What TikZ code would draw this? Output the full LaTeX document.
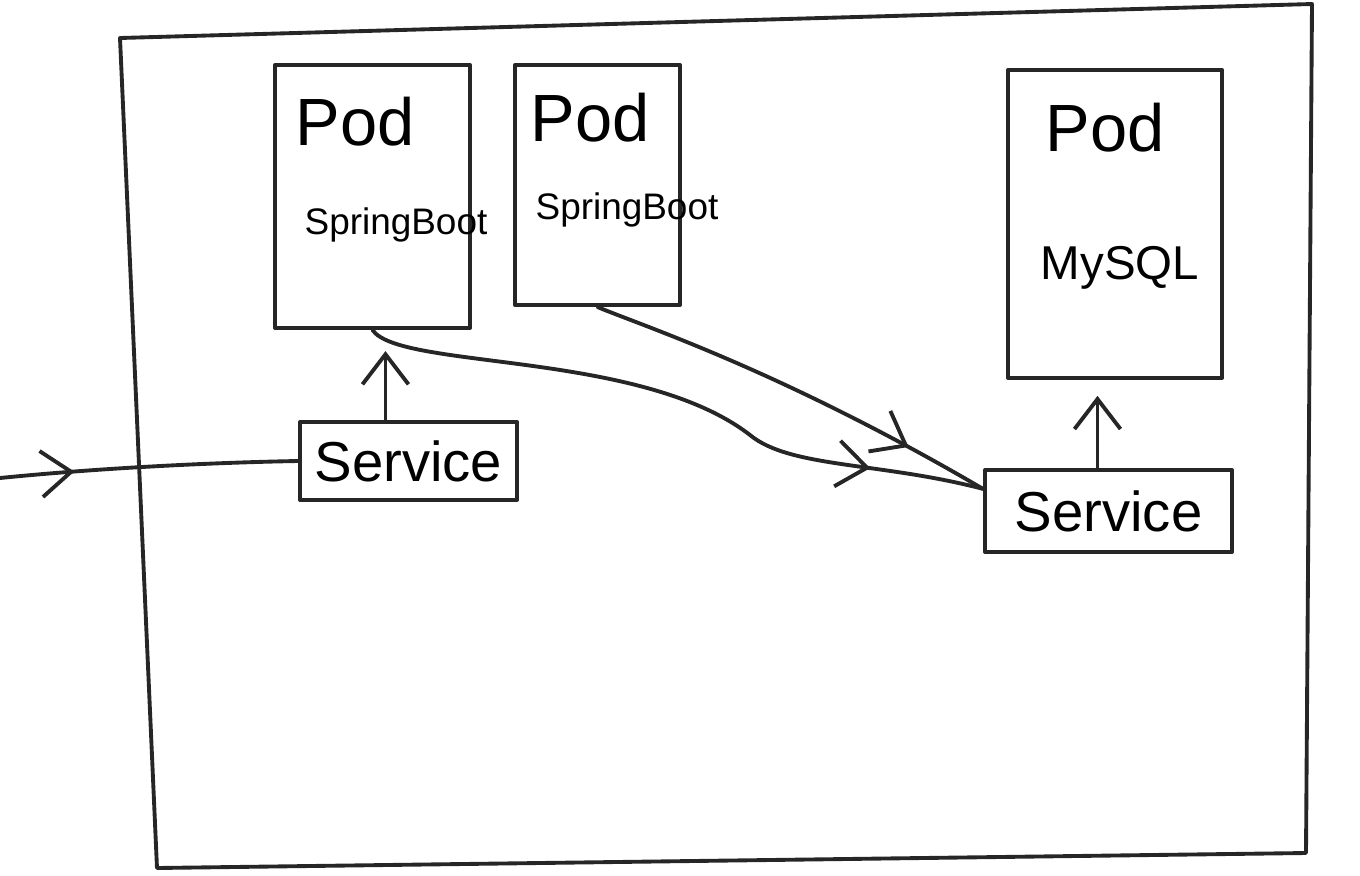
\documentclass[tikz,border=0pt]{standalone}
\usepackage{fontspec}
\setmainfont{Liberation Sans}
\usetikzlibrary{arrows.meta,decorations.markings}
\begin{document}
\begin{tikzpicture}[x=0.01cm,y=-0.01cm,
  stroke/.style={line width=1.1pt,draw=black!85,line cap=round,line join=round},
  box/.style={stroke,rectangle,inner sep=0pt},
  podtext/.style={font=\fontsize{19}{21}\selectfont},
  apptext/.style={font=\fontsize{10.5}{12}\selectfont},
  svctext/.style={font=\fontsize{16}{18}\selectfont},
  barb/.style={-{Straight Barb[length=3mm,width=4.6mm,line width=1.1pt]}},
  midbarb/.style={decoration={markings,mark=at position #1 with {\arrow{Straight Barb[length=3mm,width=4.6mm,line width=1.1pt]}}},postaction={decorate}}
]
\useasboundingbox (0,0) rectangle (1360,875);
% outer frame
\draw[stroke] (120,38) -- (1312,4) -- (1306,853) -- (157,868) -- cycle;
% pods
\node[box,minimum width=1.95cm,minimum height=2.63cm] (pod1) at (372.5,196.5) {};
\node[box,minimum width=1.65cm,minimum height=2.4cm] (pod2) at (597.5,185) {};
\node[box,minimum width=2.14cm,minimum height=3.08cm] (pod3) at (1115,224) {};
\node[podtext] (p1t) at (355,122) {Pod};
\node[apptext] (a1t) at (396,225) {SpringBoot};
\node[podtext] (p2t) at (590,118) {Pod};
\node[apptext] (a2t) at (627,210) {SpringBoot};
\node[podtext] (p3t) at (1105,128) {Pod};
\node[font=\fontsize{13.5}{16}\selectfont] (a3t) at (1120,268) {MySQL};
% services
\node[box,svctext,minimum width=2.17cm,minimum height=0.78cm] (s1) at (408.5,461) {Service};
\node[box,svctext,minimum width=2.47cm,minimum height=0.82cm] (s2) at (1108.5,511) {Service};
% connectors
\coordinate (in) at (0,478);
\draw[stroke,midbarb=0.25] (in) .. controls (120,466) and (240,462) .. (s1.west);
\draw[stroke,barb,shorten >=6pt] ([xshift=-0.23cm]s1.north) -- ([xshift=-0.23cm]s1.north |- pod1.south);
\draw[stroke,barb,shorten >=4.5pt] ([xshift=-0.11cm]s2.north) -- ([xshift=-0.11cm]s2.north |- pod3.south);
\draw[stroke,midbarb=0.82] (pod1.south) .. controls (400,370) and (640,350) .. (750,435)
   .. controls (790,468) and (880,462) .. (s2.170);
\draw[stroke,midbarb=0.8] (pod2.south) .. controls (640,325) and (780,370) .. (s2.170);
\end{tikzpicture}
\end{document}
